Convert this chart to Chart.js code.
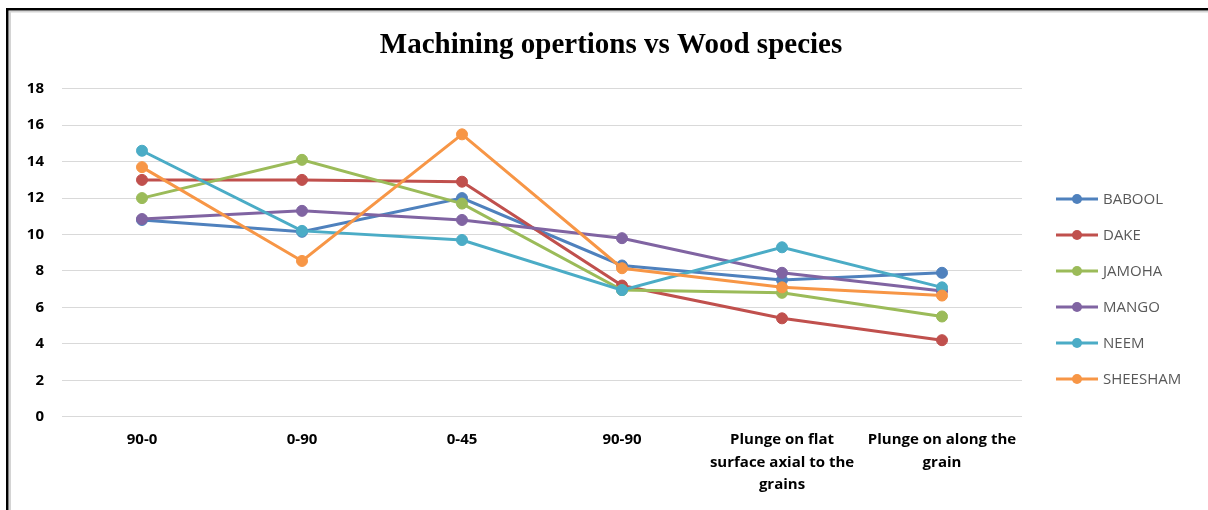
<!DOCTYPE html>
<html>
<head>
<meta charset="utf-8">
<title>Machining opertions vs Wood species</title>
<script src="https://cdn.jsdelivr.net/npm/chart.js@4.4.1/dist/chart.umd.min.js"></script>
<style>
  html, body { margin: 0; padding: 0; background: #ffffff; }
  #wrap { position: relative; width: 1208px; height: 510px; }
  canvas { display: block; }
</style>
</head>
<body>
<div id="wrap"><canvas id="chart" width="1208" height="510"></canvas></div>
<script>
// Machining operations (categories)
const operations = [
  '90-0',
  '0-90',
  '0-45',
  '90-90',
  ['Plunge on flat', 'surface axial to the', 'grains'],
  ['Plunge on along the', 'grain']
];

// Wood species
const species = ['BABOOL', 'DAKE', 'JAMOHA', 'MANGO', 'NEEM', 'SHEESHAM'];

// Values per species, one per operation
const babool   = [10.8, 10.15, 12.0, 8.3, 7.5, 7.9];
const dake     = [13.0, 13.0, 12.9, 7.2, 5.4, 4.2];
const jamoha   = [12.0, 14.1, 11.7, 6.95, 6.8, 5.5];
const mango    = [10.85, 11.3, 10.8, 9.8, 7.9, 6.9];
const neem     = [14.6, 10.2, 9.7, 6.95, 9.3, 7.1];
const sheesham = [13.7, 8.55, 15.5, 8.15, 7.1, 6.65];

// Y axis range and step
const yMin = 0, yMax = 18, yStep = 2;

const seriesValues = [babool, dake, jamoha, mango, neem, sheesham];
const palette = ['#4F81BD', '#C0504D', '#9BBB59', '#8064A2', '#4BACC6', '#F79646'];

const datasets = species.map((name, i) => ({
  label: name,
  data: seriesValues[i],
  borderColor: palette[i],
  backgroundColor: palette[i],
  pointBackgroundColor: palette[i],
  pointBorderColor: palette[i],
  borderWidth: 3,
  pointRadius: 5.5,
  pointBorderWidth: 1,
  pointHoverRadius: 5.5,
  tension: 0,
  fill: false,
  yAxisID: 'y',
  order: species.length - 1 - i   // later series drawn on top
}));

// Frame around the chart: dark outer line plus a light inner line
const framePlugin = {
  id: 'frame',
  beforeDraw(chart) {
    const ctx = chart.ctx;
    const w = chart.width, h = chart.height;
    ctx.save();
    ctx.fillStyle = '#ffffff';
    ctx.fillRect(0, 0, w, h);
    ctx.fillStyle = '#000000';
    ctx.fillRect(6, 8, 2.5, h - 8);
    ctx.fillRect(6, 8, w - 6, 2.5);
    ctx.fillStyle = '#d4d4d4';
    ctx.fillRect(9, 11, 2, h - 11);
    ctx.fillRect(9, 11, w - 9, 1.5);
    ctx.restore();
  }
};

// Legend on the right: short line with a marker, then the series name
const sideLegend = {
  id: 'sideLegend',
  afterDraw(chart) {
    const ctx = chart.ctx;
    const x0 = 1056, x1 = 1098, textX = 1103;
    const firstY = 199, gap = 36;
    ctx.save();
    chart.data.datasets.forEach((ds, i) => {
      const y = firstY + i * gap;
      ctx.strokeStyle = ds.borderColor;
      ctx.lineWidth = 3;
      ctx.lineCap = 'butt';
      ctx.beginPath();
      ctx.moveTo(x0, y);
      ctx.lineTo(x1, y);
      ctx.stroke();
      ctx.fillStyle = ds.borderColor;
      ctx.beginPath();
      ctx.arc((x0 + x1) / 2, y, 5, 0, Math.PI * 2);
      ctx.fill();
      ctx.fillStyle = '#595959';
      ctx.font = '15px "Open Sans"';
      ctx.textAlign = 'left';
      ctx.textBaseline = 'middle';
      ctx.fillText(ds.label, textX, y + 1);
    });
    ctx.restore();
  }
};

new Chart(document.getElementById('chart'), {
  type: 'line',
  data: { labels: operations, datasets },
  plugins: [framePlugin, sideLegend],
  options: {
    responsive: false,
    animation: false,
    events: [],
    layout: { padding: { left: 14, right: 0, top: 0, bottom: 0 } },
    plugins: {
      legend: { display: false },
      tooltip: { enabled: false },
      title: {
        display: true,
        text: 'Machining opertions vs Wood species',
        color: '#000000',
        font: { family: '"Liberation Serif", "Times New Roman", serif', size: 29, weight: 'bold', lineHeight: 1.2 },
        padding: { top: 28.4, bottom: 25.6 }
      }
    },
    scales: {
      x: {
        offset: true,
        grid: { display: false, drawTicks: false },
        border: { display: false },
        ticks: {
          color: '#000000',
          padding: 12,
          maxRotation: 0,
          autoSkip: false,
          font: { family: '"Open Sans"', size: 15, weight: 'bold', lineHeight: 1.5 }
        },
        afterFit(scale) { scale.height = 93.3; }
      },
      y: {
        position: 'left',
        min: yMin,
        max: yMax,
        grid: { color: '#d9d9d9', lineWidth: 1, drawTicks: false },
        border: { display: false },
        ticks: {
          stepSize: yStep,
          color: '#000000',
          padding: 18,
          font: { family: '"Open Sans"', size: 15, weight: 'bold' }
        },
        afterFit(scale) { scale.width = 48; }
      },
      // empty band on the right that holds the legend
      legendSpace: {
        position: 'right',
        display: true,
        min: yMin,
        max: yMax,
        grid: { display: false, drawTicks: false },
        border: { display: false },
        ticks: { display: false },
        afterFit(scale) { scale.width = 186; }
      }
    }
  }
});
</script>
</body>
</html>
